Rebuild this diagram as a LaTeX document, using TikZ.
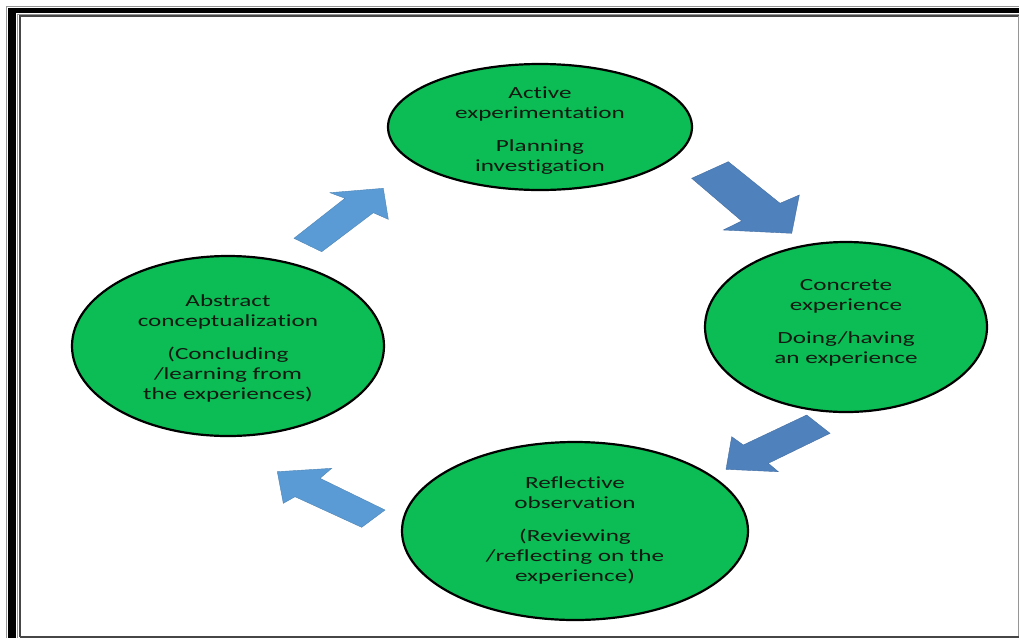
\documentclass[tikz,border=0pt]{standalone}
\usepackage{fontspec}
\setmainfont{Carlito}[FakeStretch=1.48, Ligatures={NoCommon,NoRare}]
\usetikzlibrary{shapes.geometric}

\definecolor{stagegreen}{RGB}{12,188,84}
\definecolor{stageink}{RGB}{18,26,18}
\definecolor{darkflow}{RGB}{79,129,189}
\definecolor{lightflow}{RGB}{91,155,213}
\definecolor{framegray}{RGB}{150,150,150}
\definecolor{framedark}{RGB}{70,70,70}

\tikzset{
  stage/.style={ellipse, draw=black, line width=2.2pt, fill=stagegreen,
                inner sep=0pt, minimum width=#1},
  stagetext/.style={align=center, text=stageink, inner sep=0pt,
                    font=\fontsize{17}{20}\selectfont},
  darkblock/.style={fill=darkflow, draw=darkflow!85!black, line width=0.4pt, line join=miter},
  lightblock/.style={fill=lightflow, draw=lightflow!85!black, line width=0.4pt, line join=miter},
}

\begin{document}
\begin{tikzpicture}[x=1pt, y=-1pt]
  \useasboundingbox (0,0) rectangle (1019,638);
  \fill[white] (0,0) rectangle (1019,638);

  % page border: heavy double rule on the top and left, thin rules right and bottom
  \draw[framegray, line width=1.2pt] (6.5,638) -- (6.5,6.5) -- (1019,6.5);
  \fill[black] (8,8) rectangle (1019,13.3);
  \fill[black] (8,8) rectangle (16,638);
  \draw[framegray, line width=1pt] (17.3,638) -- (17.3,14) -- (1019,14);
  \draw[framedark, line width=1.2pt] (20,637) -- (20,16) -- (1019,16);
  \draw[framegray, line width=1.4pt] (1018.2,16) -- (1018.2,638);
  \draw[framedark, line width=1.6pt] (20,637) -- (1019,637);

  % the four stages of the cycle
  \node[stage=304pt, minimum height=126pt] (active)   at (540,127) {};
  \node[stage=282pt, minimum height=170pt] (concrete) at (846,327) {};
  \node[stage=346pt, minimum height=178pt] (reflect)  at (575,531) {};
  \node[stage=312pt, minimum height=180pt] (abstract) at (228,346) {};

  \node[stagetext] (active-t) at ([yshift=-4pt]active.center)
    {Active\\experimentation\\[13pt]Planning\\investigation};
  \node[stagetext] (concrete-t) at ([yshift=4pt]concrete.center)
    {Concrete\\experience\\[13pt]Doing/having\\an experience};
  \node[stagetext] (reflect-t) at ([yshift=1pt]reflect.center)
    {Reflective\\observation\\[13pt](Reviewing\\/reflecting on the\\experience)};
  \node[stagetext] (abstract-t) at ([yshift=-2pt]abstract.center)
    {Abstract\\conceptualization\\[13pt](Concluding\\/learning from\\the experiences)};

  % block arrows between the stages
  \draw[darkblock] (691.7,178.3) -- (728.3,161.7) -- (780,203.3) -- (799.3,195)
    -- (791.7,233.3) -- (723.3,230) -- (741.7,221) -- cycle;
  \draw[darkblock] (806.7,415) -- (830,433.3) -- (768.3,463.3) -- (778.3,471.7)
    -- (726,469.3) -- (731.7,436.7) -- (743.3,445) -- cycle;
  \draw[lightblock] (385,510) -- (361.7,527.3) -- (295,496.7) -- (283.3,503.3)
    -- (277.3,471.7) -- (331.7,468.3) -- (320,478.3) -- cycle;
  \draw[lightblock] (321.7,251.7) -- (294,238.3) -- (345,198.3) -- (330,192.7)
    -- (383.3,188.3) -- (388.3,219.3) -- (373.3,212.7) -- cycle;
\end{tikzpicture}
\end{document}
